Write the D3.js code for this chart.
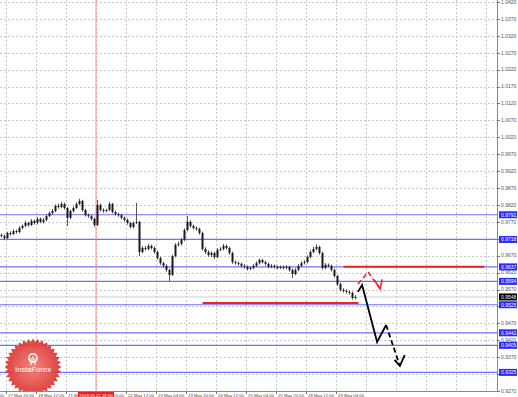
<!DOCTYPE html>
<html>
<head>
<meta charset="utf-8">
<script src="https://cdn.jsdelivr.net/npm/d3@7/dist/d3.min.js"></script>
<style>
  body { margin: 0; background: #fff; }
  svg { display: block; font-family: "Liberation Sans", Arial, sans-serif; }
</style>
</head>
<body>
<div id="chart"></div>
<script>
// hourly candles (open = previous close)
const firstOpen = 0.9731;
const closes = [
  0.9728, 0.9722, 0.9737, 0.9734, 0.9743, 0.9740, 0.9752, 0.9758, 0.9767, 0.9761,
  0.9773, 0.9767, 0.9779, 0.9770, 0.9776, 0.9787, 0.9796, 0.9802, 0.9817, 0.9814,
  0.9823, 0.9811, 0.9782, 0.9802, 0.9811, 0.9823, 0.9832, 0.9805, 0.9790, 0.9787,
  0.9779, 0.9761, 0.9820, 0.9805, 0.9802, 0.9805, 0.9823, 0.9799, 0.9793, 0.9790,
  0.9782, 0.9776, 0.9767, 0.9755, 0.9767, 0.9770, 0.9681, 0.9693, 0.9690, 0.9699,
  0.9693, 0.9681, 0.9663, 0.9648, 0.9640, 0.9628, 0.9613, 0.9669, 0.9702, 0.9705,
  0.9717, 0.9746, 0.9770, 0.9758, 0.9752, 0.9749, 0.9737, 0.9690, 0.9681, 0.9672,
  0.9678, 0.9666, 0.9687, 0.9690, 0.9699, 0.9693, 0.9678, 0.9651, 0.9648, 0.9646,
  0.9640, 0.9637, 0.9631, 0.9634, 0.9640, 0.9648, 0.9657, 0.9651, 0.9646, 0.9637,
  0.9640, 0.9637, 0.9634, 0.9637, 0.9634, 0.9637, 0.9628, 0.9616, 0.9628, 0.9640,
  0.9648, 0.9651, 0.9666, 0.9681, 0.9690, 0.9696, 0.9678, 0.9634, 0.9643, 0.9640,
  0.9628, 0.9610, 0.9586, 0.9569, 0.9566, 0.9563, 0.9560, 0.9545, 0.9548
];
const highs = [
  0.9736, 0.9733, 0.9741, 0.9742, 0.9748, 0.9747, 0.9757, 0.9762, 0.9773, 0.9770,
  0.9778, 0.9777, 0.9784, 0.9783, 0.9781, 0.9792, 0.9801, 0.9808, 0.9822, 0.9824,
  0.9829, 0.9827, 0.9814, 0.9806, 0.9816, 0.9828, 0.9838, 0.9835, 0.9809, 0.9795,
  0.9791, 0.9782, 0.9835, 0.9824, 0.9810, 0.9809, 0.9829, 0.9826, 0.9803, 0.9797,
  0.9794, 0.9786, 0.9780, 0.9770, 0.9771, 0.9826, 0.9773, 0.9698, 0.9699, 0.9705,
  0.9703, 0.9697, 0.9685, 0.9667, 0.9652, 0.9645, 0.9631, 0.9673, 0.9707, 0.9712,
  0.9722, 0.9751, 0.9787, 0.9775, 0.9762, 0.9757, 0.9753, 0.9741, 0.9695, 0.9686,
  0.9683, 0.9682, 0.9692, 0.9695, 0.9705, 0.9703, 0.9697, 0.9682, 0.9656, 0.9653,
  0.9650, 0.9645, 0.9641, 0.9638, 0.9645, 0.9653, 0.9662, 0.9661, 0.9655, 0.9650,
  0.9645, 0.9644, 0.9641, 0.9641, 0.9641, 0.9642, 0.9640, 0.9632, 0.9633, 0.9645,
  0.9653, 0.9657, 0.9671, 0.9686, 0.9696, 0.9704, 0.9700, 0.9682, 0.9648, 0.9647,
  0.9644, 0.9632, 0.9614, 0.9590, 0.9574, 0.9571, 0.9567, 0.9564, 0.9553
];
const lows = [
  0.9724, 0.9717, 0.9719, 0.9729, 0.9731, 0.9735, 0.9736, 0.9748, 0.9754, 0.9756,
  0.9758, 0.9762, 0.9763, 0.9766, 0.9765, 0.9772, 0.9784, 0.9791, 0.9799, 0.9809,
  0.9810, 0.9806, 0.9758, 0.9778, 0.9798, 0.9808, 0.9819, 0.9800, 0.9786, 0.9782,
  0.9774, 0.9755, 0.9758, 0.9800, 0.9797, 0.9798, 0.9802, 0.9795, 0.9789, 0.9785,
  0.9778, 0.9771, 0.9762, 0.9750, 0.9751, 0.9763, 0.9669, 0.9677, 0.9685, 0.9686,
  0.9688, 0.9676, 0.9658, 0.9643, 0.9635, 0.9622, 0.9595, 0.9610, 0.9665, 0.9697,
  0.9700, 0.9713, 0.9742, 0.9753, 0.9747, 0.9744, 0.9732, 0.9685, 0.9675, 0.9667,
  0.9666, 0.9660, 0.9662, 0.9683, 0.9686, 0.9688, 0.9673, 0.9646, 0.9643, 0.9641,
  0.9635, 0.9632, 0.9626, 0.9627, 0.9630, 0.9636, 0.9644, 0.9647, 0.9641, 0.9633,
  0.9633, 0.9632, 0.9630, 0.9630, 0.9629, 0.9630, 0.9623, 0.9604, 0.9612, 0.9624,
  0.9636, 0.9644, 0.9647, 0.9662, 0.9677, 0.9686, 0.9673, 0.9629, 0.9630, 0.9635,
  0.9623, 0.9605, 0.9581, 0.9564, 0.9561, 0.9558, 0.9555, 0.9540, 0.9541
];

const priceTicks = [
  1.0420, 1.0370, 1.0320, 1.0270, 1.0220, 1.0170, 1.0120, 1.0070, 1.0020, 0.9970,
  0.9920, 0.9870, 0.9820, 0.9770, 0.9720, 0.9670, 0.9620, 0.9570, 0.9520, 0.9470,
  0.9420, 0.9370, 0.9320, 0.9270
];
const levels = [0.9791, 0.9718, 0.9637, 0.9594, 0.9525, 0.9442, 0.9405, 0.9325];
const currentPrice = 0.9548;

// a label every 10 bars, the first one only partly on screen
const timeLabels = [
  "17 May 04:00", "17 May 20:00", "18 May 12:00", "21 May 04:00", "21 May 20:00",
  "22 May 12:00", "23 May 04:00", "23 May 20:00", "24 May 12:00", "25 May 04:00",
  "25 May 20:00", "28 May 12:00", "29 May 04:00"
];
const markerBar = 31.5;
const markerText = "2018.05.21 18:00";

// drawn objects: [bar, price]
const redSegments = [
  { from: 67, to: 119, price: 0.9530 },
  { from: 114, to: 161, price: 0.9637 }
];
const blackSolid = [[118.8, 0.9563], [120.2, 0.9583], [125.2, 0.9415], [128.2, 0.9465]];
const blackDashed = [[128.2, 0.9465], [132.8, 0.9344]];
const blackHead = [[131.0, 0.9362], [132.8, 0.9344], [134.4, 0.9376]];
const redDashed = [[118.8, 0.9586], [122.2, 0.9622], [126.2, 0.9572]];
const redHead = [[124.3, 0.9598], [126.2, 0.9572], [126.9, 0.9600]];

const width = 518, height = 397;
const plotW = 497, plotH = 391;

const x = d3.scaleLinear().domain([-0.5, 165.5]).range([0, 498]);
const y = d3.scaleLinear().domain([0.9270, 1.0420]).range([391, 2]);
const fmt = d3.format(".4f");

const svg = d3.select("#chart").append("svg")
  .attr("width", width)
  .attr("height", height);

const defs = svg.append("defs");
defs.append("clipPath").attr("id", "clip")
  .append("rect").attr("width", plotW).attr("height", plotH);

const grad = defs.append("radialGradient").attr("id", "logoGrad");
grad.append("stop").attr("offset", "0%").attr("stop-color", "#f47a72");
grad.append("stop").attr("offset", "100%").attr("stop-color", "#d9302c");

const plot = svg.append("g").attr("clip-path", "url(#clip)");

// GRID
plot.append("g").selectAll("line").data(priceTicks).enter().append("line")
  .attr("x1", 0).attr("x2", plotW)
  .attr("y1", d => Math.round(y(d)) + 0.5).attr("y2", d => Math.round(y(d)) + 0.5)
  .attr("stroke", "#c8c8c8").attr("stroke-dasharray", "2,2");

const gridBars = d3.range(-1, 17).map(k => 1.5 + 10 * k);
plot.append("g").selectAll("line").data(gridBars).enter().append("line")
  .attr("x1", d => Math.round(x(d)) + 0.5).attr("x2", d => Math.round(x(d)) + 0.5)
  .attr("y1", 0).attr("y2", plotH)
  .attr("stroke", "#c8c8c8").attr("stroke-dasharray", "2,2");

// LEVELS
plot.append("line")
  .attr("x1", 0).attr("x2", plotW)
  .attr("y1", y(currentPrice)).attr("y2", y(currentPrice))
  .attr("stroke", "#d0d0d0").attr("stroke-width", 1);

plot.append("g").selectAll("line").data(levels).enter().append("line")
  .attr("x1", 0).attr("x2", plotW)
  .attr("y1", d => y(d)).attr("y2", d => y(d))
  .attr("stroke", "#6f6fff").attr("stroke-width", 1.2);

// vertical marker
plot.append("line")
  .attr("x1", x(markerBar)).attr("x2", x(markerBar))
  .attr("y1", 0).attr("y2", plotH)
  .attr("stroke", "#ff8c8c").attr("stroke-width", 1);

// LOGO
const logo = plot.append("g").attr("transform", "translate(33,367)");
const spikes = 36;
const starPts = d3.range(spikes * 2).map(i => {
  const a = i * Math.PI / spikes;
  const r = i % 2 ? 25 : 28.5;
  return [Math.sin(a) * r, -Math.cos(a) * r];
});
logo.append("path")
  .attr("d", d3.line().curve(d3.curveLinearClosed)(starPts))
  .attr("fill", "url(#logoGrad)").attr("opacity", 0.92);
logo.append("circle").attr("cy", -9).attr("r", 4.2)
  .attr("fill", "none").attr("stroke", "#fff").attr("stroke-width", 1.4);
logo.append("path").attr("d", "M-2,-9 L-2,-2 M2,-9 L2,-2 M0,-11 L0,-4")
  .attr("stroke", "#fff").attr("stroke-width", 1.1);
logo.append("text").attr("y", 5).attr("text-anchor", "middle")
  .attr("fill", "#fff").attr("font-size", 7.6).text("InstaForex");

// CANDLES
const candles = closes.map((c, i) => ({
  i: i,
  open: i === 0 ? firstOpen : closes[i - 1],
  close: c,
  high: highs[i],
  low: lows[i]
}));

const bars = plot.append("g").selectAll("g").data(candles).enter().append("g");
bars.append("line")
  .attr("x1", d => x(d.i)).attr("x2", d => x(d.i))
  .attr("y1", d => y(d.high)).attr("y2", d => y(d.low))
  .attr("stroke", "#444").attr("stroke-width", 0.9);
bars.append("rect")
  .attr("x", d => x(d.i) - 1)
  .attr("width", 2)
  .attr("y", d => y(Math.max(d.open, d.close)))
  .attr("height", d => Math.max(1, Math.abs(y(d.open) - y(d.close))))
  .attr("fill", "#1a1a1a");

// DRAWN LINES
plot.append("g").selectAll("line").data(redSegments).enter().append("line")
  .attr("x1", d => x(d.from)).attr("x2", d => x(d.to))
  .attr("y1", d => y(d.price)).attr("y2", d => y(d.price))
  .attr("stroke", "#e8252a").attr("stroke-width", 2);

const line = d3.line().x(d => x(d[0])).y(d => y(d[1]));
plot.append("path").attr("d", line(blackSolid))
  .attr("fill", "none").attr("stroke", "#000").attr("stroke-width", 1.8);
plot.append("path").attr("d", line(blackDashed))
  .attr("fill", "none").attr("stroke", "#000").attr("stroke-width", 1.8)
  .attr("stroke-dasharray", "5,3");
plot.append("path").attr("d", line(blackHead))
  .attr("fill", "none").attr("stroke", "#000").attr("stroke-width", 1.8);
plot.append("path").attr("d", line(redDashed))
  .attr("fill", "none").attr("stroke", "#f0242a").attr("stroke-width", 1.6)
  .attr("stroke-dasharray", "5,3");
plot.append("path").attr("d", line(redHead))
  .attr("fill", "none").attr("stroke", "#f0242a").attr("stroke-width", 1.6);

// AXES
svg.append("line")
  .attr("x1", plotW + 0.5).attr("x2", plotW + 0.5).attr("y1", 0).attr("y2", plotH)
  .attr("stroke", "#888");
svg.append("line")
  .attr("x1", 0).attr("x2", plotW).attr("y1", plotH + 0.5).attr("y2", plotH + 0.5)
  .attr("stroke", "#888");

// tick labels hidden behind a level box are not drawn
const boxed = levels.concat([currentPrice]);
const freeTicks = priceTicks.filter(t => boxed.every(b => Math.abs(y(t) - y(b)) > 3.5));

const pAxis = svg.append("g");
pAxis.selectAll("line").data(priceTicks).enter().append("line")
  .attr("x1", plotW).attr("x2", plotW + 3)
  .attr("y1", d => Math.round(y(d)) + 0.5).attr("y2", d => Math.round(y(d)) + 0.5)
  .attr("stroke", "#777");
pAxis.selectAll("text").data(freeTicks).enter().append("text")
  .attr("x", plotW + 4).attr("y", d => y(d) + 1.8)
  .attr("font-size", 5).attr("fill", "#555")
  .text(d => fmt(d));

const boxes = svg.append("g").selectAll("g").data(levels).enter().append("g")
  .attr("transform", d => "translate(" + (plotW + 2) + "," + y(d) + ")");
boxes.append("rect").attr("y", -3.5).attr("width", 18).attr("height", 7)
  .attr("fill", "#2a2aff");
boxes.append("text").attr("x", 2).attr("y", 1.8)
  .attr("font-size", 5).attr("fill", "#fff").text(d => fmt(d));

const cur = svg.append("g").attr("transform", "translate(" + (plotW + 2) + "," + y(currentPrice) + ")");
cur.append("rect").attr("y", -3.5).attr("width", 18).attr("height", 7).attr("fill", "#000");
cur.append("text").attr("x", 2).attr("y", 1.8)
  .attr("font-size", 5).attr("fill", "#fff").text(fmt(currentPrice));

// time axis, clipped around the red time box of the marker line
const mx = x(markerBar);
const tclip = defs.append("clipPath").attr("id", "tclip");
tclip.append("rect").attr("x", 0).attr("width", mx - 18).attr("height", height);
tclip.append("rect").attr("x", mx + 18).attr("width", plotW - mx - 18).attr("height", height);

const tAxis = svg.append("g").attr("clip-path", "url(#tclip)");
const tk = tAxis.selectAll("g").data(timeLabels).enter().append("g")
  .attr("transform", (d, k) => "translate(" + Math.round(x(1.5 + 10 * (k - 1))) + "," + plotH + ")");
tk.append("line").attr("x1", 0.5).attr("x2", 0.5).attr("y1", 0).attr("y2", 3).attr("stroke", "#777");
tk.append("text").attr("x", 2).attr("y", 5.8)
  .attr("font-size", 4.3).attr("fill", "#444").text(d => d);

const mk = svg.append("g").attr("transform", "translate(" + mx + "," + plotH + ")");
mk.append("rect").attr("x", -18).attr("y", 1).attr("width", 36).attr("height", 6).attr("fill", "#f21d1d");
mk.append("text").attr("y", 5.8).attr("text-anchor", "middle")
  .attr("font-size", 4.3).attr("fill", "#fff").text(markerText);
</script>
</body>
</html>
